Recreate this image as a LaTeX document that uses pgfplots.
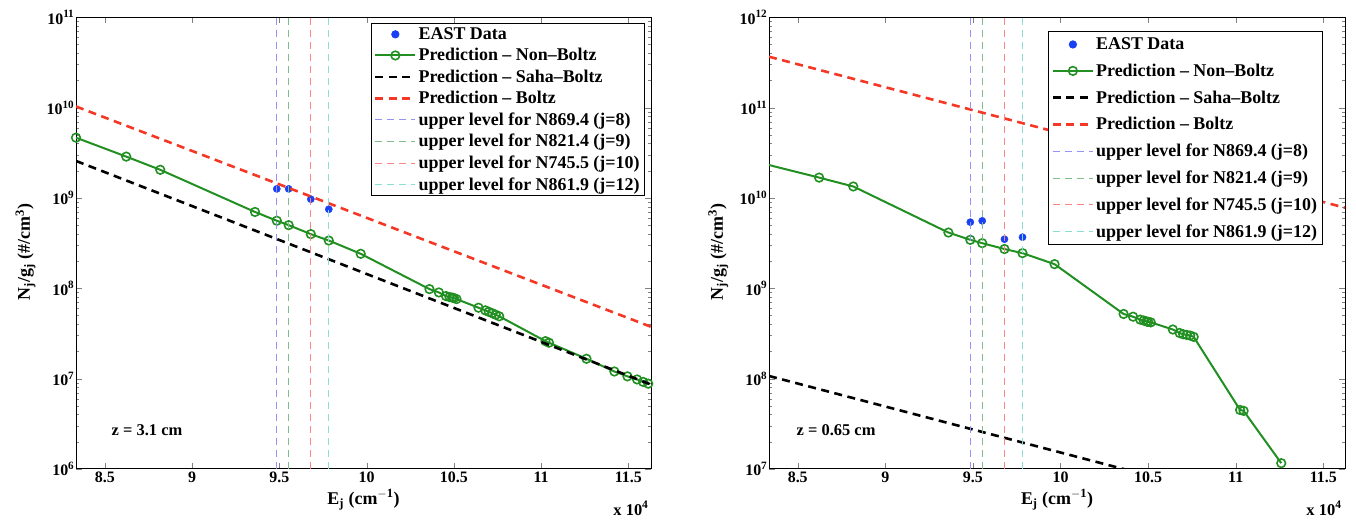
\documentclass[border=0pt]{standalone}
\usepackage{fontspec}
\setmainfont{Liberation Serif}
\usepackage{pgfplots}
\usepackage{pgfplotstable}
\pgfplotsset{compat=1.18}
\definecolor{mgreen}{rgb}{0.13,0.56,0.13}
\definecolor{mblue}{rgb}{0.1,0.25,0.95}
\definecolor{mred}{rgb}{0.96,0.22,0.15}
\definecolor{vblue}{rgb}{0.58,0.58,0.97}
\definecolor{vgreen}{rgb}{0.50,0.74,0.55}
\definecolor{vred}{rgb}{0.98,0.52,0.52}
\definecolor{vcyan}{rgb}{0.55,0.87,0.83}

\pgfplotstableread{
E      L       R
8.334  4.65e9  2.32e10
8.622  2.87e9  1.68e10
8.817  2.05e9  1.34e10
9.360  7.0e8   4.14e9
9.485  5.6e8   3.44e9
9.553  5.0e8   3.16e9
9.680  3.98e8  2.72e9
9.783  3.38e8  2.45e9
9.966  2.41e8  1.85e9
10.360 9.8e7   5.2e8
10.414 9.0e7   4.85e8
10.455 8.2e7   4.5e8
10.475 8.0e7   4.4e8
10.490 7.9e7   4.3e8
10.500 7.8e7   4.25e8
10.515 7.6e7   4.2e8
10.641 6.1e7   3.5e8
10.680 5.7e7   3.2e8
10.700 5.5e7   3.1e8
10.720 5.3e7   3.05e8
10.740 5.1e7   3.0e8
10.760 4.9e7   2.9e8
11.025 2.6e7   4.5e7
11.045 2.5e7   4.4e7
11.260 1.66e7  1.16e7
11.420 1.2e7   nan
11.495 1.06e7  nan
11.550 9.8e6   nan
11.585 9.2e6   nan
11.614 8.8e6   nan
}\nondata

\tikzset{
  nbst/.style={color=mgreen, line width=2bp, mark=o, mark size=4.3bp, mark options={line width=1.6bp, solid}},
  edst/.style={only marks, mark=*, color=mblue, mark size=3.6bp},
  sbst/.style={black, line width=2.6bp, dash pattern=on 8bp off 5.5bp},
  bzst/.style={mred, line width=2.6bp, dash pattern=on 8bp off 5.5bp},
  vlst/.style={line width=1bp, dash pattern=on 7bp off 5bp},
  txtA/.style={font=\fontsize{16.5}{19}\selectfont\bfseries},
}
\newcommand{\labfont}{\fontsize{18}{21}\selectfont\bfseries}
\newcommand{\legfont}{\fontsize{18}{21}\selectfont\bfseries}
\newcommand{\tb}[1]{\textbf{\fontsize{16}{19}\selectfont #1}}
\newcommand{\tp}[1]{\textbf{\fontsize{16}{19}\selectfont 10\textsuperscript{#1}}}
\pgfplotsset{
  legend image code/.code={\draw[mark repeat=2,mark phase=2,#1] plot coordinates {(0bp,0bp) (20bp,0bp) (40bp,0bp)};},
  every axis/.append style={
    scale only axis, height=451.7bp,
    axis line style={line width=1bp, black},
    tick align=inside, major tick length=6bp, minor tick length=3bp,
    /pgf/number format/assume math mode=true,
    clip mode=individual,
    unbounded coords=jump,
    legend cell align=left,
  },
}

\begin{document}
\begin{tikzpicture}[x=1bp,y=1bp]
\useasboundingbox (0,0) rectangle (1356,521);
% ---------------- left ----------------
\begin{axis}[ymode=log, width=575bp, at={(76bp,52bp)}, anchor=south west,
  xmin=8.334, xmax=11.63, ymin=1e6, ymax=1e11,
  xtick={8.5,9,9.5,10,10.5,11,11.5},
  xticklabels={\tb{8.5},\tb{9},\tb{9.5},\tb{10},\tb{10.5},\tb{11},\tb{11.5}},
  yticklabel style={inner xsep=1.5bp},
  xticklabel style={inner ysep=3bp},
  label style={font=\labfont},
  xlabel style={at={(axis description cs:0.5,-0.078)}, anchor=base},
  ylabel style={at={(axis description cs:-0.08,0.48)}, anchor=base},
  xlabel={E\textsubscript{j} (cm\textsuperscript{$-$1})},
  ylabel={N\textsubscript{j}/g\textsubscript{j} (\#/cm\textsuperscript{3})},
  ytick={1e6,1e7,1e8,1e9,1e10,1e11},
  yticklabels={\tp{6},\tp{7},\tp{8},\tp{9},\tp{10},\tp{11}},
  legend style={at={(axis description cs:0.9896,0.987)}, anchor=north east,
    draw=black, line width=1bp, fill=white,
    font=\legfont, row sep=3.5bp,
    inner xsep=3bp, inner ysep=2bp},
]
\addplot[edst] coordinates {(9.485,1.26e9) (9.553,1.26e9) (9.680,9.7e8) (9.783,7.5e8)};
\addlegendentry{EAST Data}
\addplot[nbst] table[x=E,y=L] {\nondata};
\addlegendentry{Prediction -- Non--Boltz}
\addplot[sbst] coordinates {(8.334,2.57e9) (11.63,8.6e6)};
\addlegendentry{Prediction -- Saha--Boltz}
\addplot[bzst] coordinates {(8.334,1.03e10) (11.63,3.75e7)};
\addlegendentry{Prediction -- Boltz}
\addplot[vlst, vblue] coordinates {(9.485,1e6) (9.485,1e11)};
\addlegendentry{upper level for N869.4 (j=8)}
\addplot[vlst, vgreen] coordinates {(9.553,1e6) (9.553,1e11)};
\addlegendentry{upper level for N821.4 (j=9)}
\addplot[vlst, vred] coordinates {(9.680,1e6) (9.680,1e11)};
\addlegendentry{upper level for N745.5 (j=10)}
\addplot[vlst, vcyan] coordinates {(9.783,1e6) (9.783,1e11)};
\addlegendentry{upper level for N861.9 (j=12)}
\node[anchor=base west, txtA] at (axis description cs:0.056,0.075) {z = 3.1 cm};
\node[anchor=base east, txtA] at (axis description cs:1.0017,-0.102) {x 10\textsuperscript{4}};
\end{axis}
% ---------------- right ----------------
\begin{axis}[ymode=log, width=576bp, at={(769bp,52bp)}, anchor=south west,
  xmin=8.336, xmax=11.624, ymin=1e7, ymax=1e12,
  xtick={8.5,9,9.5,10,10.5,11,11.5},
  xticklabels={\tb{8.5},\tb{9},\tb{9.5},\tb{10},\tb{10.5},\tb{11},\tb{11.5}},
  yticklabel style={inner xsep=1.5bp},
  xticklabel style={inner ysep=3bp},
  label style={font=\labfont},
  xlabel style={at={(axis description cs:0.5,-0.078)}, anchor=base},
  ylabel style={at={(axis description cs:-0.08,0.48)}, anchor=base},
  xlabel={E\textsubscript{j} (cm\textsuperscript{$-$1})},
  ylabel={N\textsubscript{j}/g\textsubscript{j} (\#/cm\textsuperscript{3})},
  ytick={1e7,1e8,1e9,1e10,1e11,1e12},
  yticklabels={\tp{7},\tp{8},\tp{9},\tp{10},\tp{11},\tp{12}},
  legend style={at={(axis description cs:0.961,0.969)}, anchor=north east,
    draw=black, line width=1bp, fill=white,
    font=\legfont, row sep=8.8bp,
    inner xsep=3bp, inner ysep=4bp},
]
\addplot[edst] coordinates {(9.485,5.4e9) (9.553,5.58e9) (9.680,3.5e9) (9.783,3.68e9)};
\addlegendentry{EAST Data}
\addplot[nbst] table[x=E,y=R] {\nondata};
\addlegendentry{Prediction -- Non--Boltz}
\addplot[sbst] coordinates {(8.336,1.07e8) (11.624,2.27e6)};
\addlegendentry{Prediction -- Saha--Boltz}
\addplot[bzst] coordinates {(8.336,3.66e11) (11.624,7.8e9)};
\addlegendentry{Prediction -- Boltz}
\addplot[vlst, vblue] coordinates {(9.485,1e7) (9.485,1e12)};
\addlegendentry{upper level for N869.4 (j=8)}
\addplot[vlst, vgreen] coordinates {(9.553,1e7) (9.553,1e12)};
\addlegendentry{upper level for N821.4 (j=9)}
\addplot[vlst, vred] coordinates {(9.680,1e7) (9.680,1e12)};
\addlegendentry{upper level for N745.5 (j=10)}
\addplot[vlst, vcyan] coordinates {(9.783,1e7) (9.783,1e12)};
\addlegendentry{upper level for N861.9 (j=12)}
\node[anchor=base west, txtA] at (axis description cs:0.042,0.075) {z = 0.65 cm};
\node[anchor=base east, txtA] at (axis description cs:1.0,-0.102) {x 10\textsuperscript{4}};
\end{axis}
\end{tikzpicture}
\end{document}
